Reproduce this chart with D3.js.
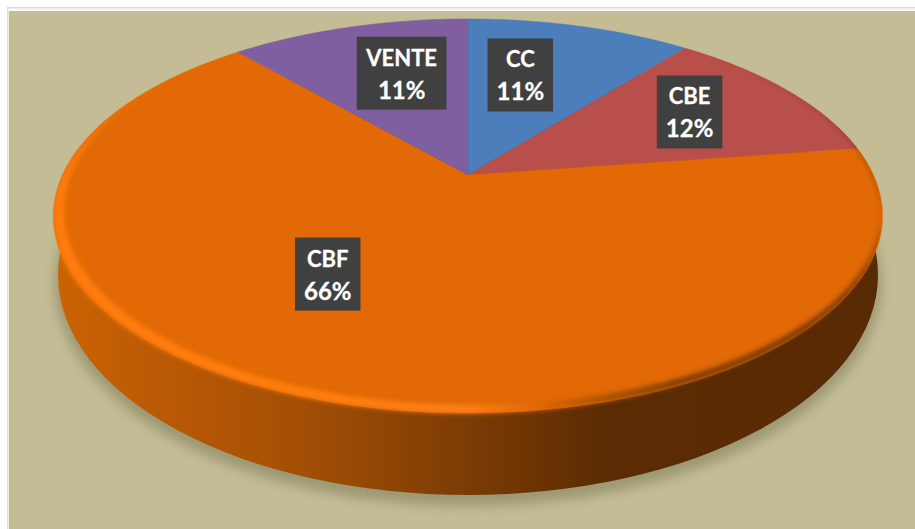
<!DOCTYPE html>
<html>
<head>
<meta charset="utf-8">
<script src="https://cdn.jsdelivr.net/npm/d3@7"></script>
<style>
    html, body { margin: 0; padding: 0; background: #fff; overflow: hidden; }
    svg { display: block; }
</style>
</head>
<body>
<div id="chart"></div>
<script>
var categories = ['CC', 'CBE', 'CBF', 'VENTE'];
var shares = [10.7, 12.0, 65.9, 11.4];
var sliceColors = ['#4b7eba', '#b94f4a', '#e26906', '#7f5f9f'];

var width = 915,
    height = 529;

// top face of the pie: a circle seen in perspective, so the apex sits above the ellipse centre
var apex = {x: 468, y: 175},
    tilt = -0.208,
    radiusX = 405.5,
    radiusY = 188.5;

var topFace = {cx: 467.5, cy: 216, rx: 414.5, ry: 197},
    bevelInner = {cx: 473, cy: 211, rx: 409, ry: 194},
    bottomFace = {cx: 468, cy: 275, rx: 410, ry: 220};

// where the label sits along the slice's middle radius, then a nudge in pixels
var labelRadius = 0.6,
    labelNudge = {
        'CC': {dx: -19.5, dy: -4.5},
        'CBE': {dx: 23, dy: -10},
        'CBF': {dx: -44.5, dy: -21},
        'VENTE': {dx: 10, dy: -7}
    };

function project(angle, r) {
    var u = r * Math.sin(angle),
        v = -r * Math.cos(angle),
        w = 1 + tilt * v;
    return [apex.x + radiusX * u / w, apex.y + radiusY * v / w];
}

var svg = d3.select('#chart').append('svg')
    .attr('width', width)
    .attr('height', height);

var defs = svg.append('defs');

function addGradient(id, x1, y1, x2, y2, stops) {
    var grad = defs.append('linearGradient')
        .attr('id', id)
        .attr('gradientUnits', 'userSpaceOnUse')
        .attr('x1', x1).attr('x2', x2)
        .attr('y1', y1).attr('y2', y2);
    stops.forEach(function (s) {
        grad.append('stop').attr('offset', s[0]).attr('stop-color', s[1]);
    });
}

function addBlur(id, amount) {
    defs.append('filter')
        .attr('id', id)
        .attr('x', '-10%').attr('y', '-10%')
        .attr('width', '120%').attr('height', '120%')
        .append('feGaussianBlur')
        .attr('stdDeviation', amount);
}

addGradient('side-shade', 53, 0, 882, 0, [
    [0, '#cc6405'],
    [0.12, '#bb5a04'],
    [0.3, '#a44f05'],
    [0.5, '#7c3c04'],
    [0.66, '#5c2c03'],
    [1, '#582a03']
]);
addGradient('bevel-shade', 53, 0, 882, 0, [
    [0, '#ff7c08'],
    [0.3, '#ff7f10'],
    [0.5, '#ff8014'],
    [0.58, '#e26906'],
    [0.66, '#a85204'],
    [0.75, '#7a3c04'],
    [1, '#5e2d03']
]);
addGradient('bevel-fade', 0, 40, 0, 190, [
    [0, '#000'],
    [1, '#fff']
]);
addBlur('shadow-blur', 6);
addBlur('bevel-blur', 2.5);

// the bevel's blur may spill on the wall, not on the panel
var discClip = defs.append('clipPath').attr('id', 'disc-clip');
[topFace, bottomFace].forEach(function (e) {
    discClip.append('ellipse')
        .attr('cx', e.cx).attr('cy', e.cy)
        .attr('rx', e.rx).attr('ry', e.ry);
});

defs.append('mask')
    .attr('id', 'bevel-mask')
    .attr('maskUnits', 'userSpaceOnUse')
    .attr('x', 0).attr('y', 0)
    .attr('width', width).attr('height', height)
    .append('rect')
    .attr('width', width).attr('height', height)
    .attr('fill', 'url(#bevel-fade)');

// frame and panel
svg.append('rect')
    .attr('x', 7).attr('y', 7)
    .attr('width', width - 7).attr('height', height - 7)
    .attr('fill', '#dcdcdc');
svg.append('rect')
    .attr('x', 8.5).attr('y', 8.5)
    .attr('width', width).attr('height', height)
    .attr('fill', '#fbfbf8');
svg.append('rect')
    .attr('x', 9).attr('y', 11)
    .attr('width', width).attr('height', height)
    .attr('fill', '#c4bc95');

// shadow under the disc
svg.append('ellipse')
    .attr('cx', bottomFace.cx).attr('cy', bottomFace.cy + 8)
    .attr('rx', bottomFace.rx + 3).attr('ry', bottomFace.ry + 3)
    .attr('fill', '#8f8c68')
    .attr('opacity', 0.75)
    .attr('filter', 'url(#shadow-blur)');

// side wall
svg.append('ellipse')
    .attr('cx', bottomFace.cx).attr('cy', bottomFace.cy)
    .attr('rx', bottomFace.rx).attr('ry', bottomFace.ry)
    .attr('fill', 'url(#side-shade)');

// slices
var pie = d3.pie().sort(null).value(function (d) { return d.share; });
var pieData = pie(categories.map(function (name, i) {
    return {name: name, share: shares[i], color: sliceColors[i]};
}));

var sliceLine = d3.line();

function slicePath(d) {
    var steps = Math.ceil((d.endAngle - d.startAngle) * 60),
        angle = d3.scaleLinear().domain([0, steps]).range([d.startAngle, d.endAngle]),
        points = d3.range(steps + 1).map(function (i) {
            return project(angle(i), 1);
        });
    points.unshift([apex.x, apex.y]);
    return sliceLine(points) + 'Z';
}

svg.append('g').selectAll('path')
    .data(pieData)
    .enter().append('path')
    .attr('d', slicePath)
    .attr('fill', function (d) { return d.data.color; })
    .attr('stroke', function (d) { return d.data.color; })
    .attr('stroke-width', 0.5);

// rim bevel: bright on the lower left, dark on the lower right
function ellipsePath(e) {
    return 'M' + (e.cx - e.rx) + ',' + e.cy +
        'a' + e.rx + ',' + e.ry + ' 0 1,0 ' + (2 * e.rx) + ',0' +
        'a' + e.rx + ',' + e.ry + ' 0 1,0 ' + (-2 * e.rx) + ',0Z';
}

svg.append('g')
    .attr('clip-path', 'url(#disc-clip)')
    .append('g')
    .attr('mask', 'url(#bevel-mask)')
    .append('path')
    .attr('d', ellipsePath(topFace) + ellipsePath(bevelInner))
    .attr('fill-rule', 'evenodd')
    .attr('fill', 'url(#bevel-shade)')
    .attr('filter', 'url(#bevel-blur)');

// data labels
var percent = d3.format('.0f');

var labels = svg.append('g').selectAll('g')
    .data(pieData)
    .enter().append('g')
    .attr('transform', function (d) {
        var p = project((d.startAngle + d.endAngle) / 2, labelRadius),
            nudge = labelNudge[d.data.name];
        return 'translate(' + (p[0] + nudge.dx) + ',' + (p[1] + nudge.dy) + ')';
    });

var labelBox = labels.append('rect')
    .attr('fill', '#404040');

var labelText = labels.append('text')
    .attr('text-anchor', 'middle')
    .attr('fill', '#fff')
    .attr('stroke', '#fff')
    .attr('stroke-width', 0.3)
    .style('font-family', 'Lato, "Open Sans", sans-serif')
    .style('font-weight', 700)
    .style('font-size', '24px');

labelText.append('tspan')
    .attr('x', 0)
    .attr('y', -7.5)
    .style('font-size', '22px')
    .text(function (d) { return d.data.name; });

labelText.append('tspan')
    .attr('x', 0)
    .attr('y', 25.5)
    .text(function (d) { return percent(d.data.share) + '%'; });

labelBox.each(function () {
    var w = this.parentNode.querySelector('text').getBBox().width + 18;
    d3.select(this)
        .attr('x', -w / 2)
        .attr('y', -36.5)
        .attr('width', w)
        .attr('height', 73);
});
</script>
</body>
</html>
